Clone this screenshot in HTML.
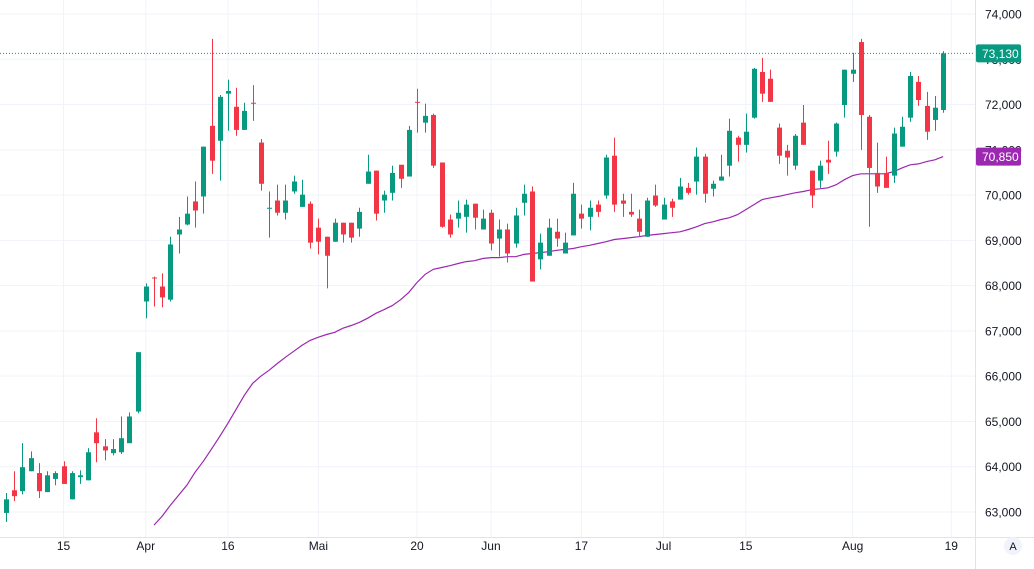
<!DOCTYPE html>
<html><head><meta charset="utf-8"><style>
html,body{margin:0;padding:0;background:#fff;overflow:hidden}
svg{display:block;font-family:"Liberation Sans",sans-serif}
</style></head><body>
<svg id="chart" width="1034" height="569" viewBox="0 0 1034 569">
<g id="grid"></g>
<g id="ma"></g>
<g id="candles"></g>
<g id="yaxis"></g>
<g id="xaxis"></g>
</svg>
<script>
const opens=[62980,63480,63460,63900,63860,63440,63730,64010,63280,63770,63700,64760,64450,64300,64320,64520,65220,67650,68180,67980,67690,69130,69350,69860,69970,71530,71200,72240,71950,71440,72040,71160,69700,69880,69610,70080,69740,69810,69280,69080,68970,69390,69390,69260,70250,70540,69880,70050,70670,70410,72060,71600,71770,70720,69460,69480,69520,69810,69240,69610,69040,69240,68930,69830,70080,68580,68660,69190,68710,69110,69590,69520,69790,69990,70870,69880,69630,69480,69080,69990,69460,69860,69900,70160,70300,70850,70140,70320,70650,71270,71110,71710,72720,72570,71490,70980,70650,71600,70540,70320,70780,70960,71990,72680,73380,71730,70490,70490,70430,71070,71710,72500,71970,71660,71880];
const highs=[63420,63900,64520,64340,64080,63900,63900,64120,63900,63920,64410,65070,64610,64610,65110,65200,66530,68050,68200,68270,69080,69520,69970,70300,71070,73450,72210,72550,72370,72040,72430,71240,70080,70230,70230,70430,70340,69860,69480,69080,69480,69390,69390,69720,70890,70540,70100,70650,70670,71530,72350,72020,71800,70720,69570,69880,69900,69810,69680,69680,69460,69370,69720,70230,70190,69150,69480,69480,69170,70270,69790,69880,69880,70890,71270,70030,70030,69680,69940,70230,69940,69920,70380,70270,71050,70910,70320,70890,71690,71310,71800,72810,73030,72770,71580,71110,71350,71990,70540,70760,71200,71600,72770,73140,73450,71770,71160,70850,71490,71730,72720,72630,72280,72190,73180];
const lows=[62780,63240,63390,63900,63310,63440,63590,63620,63280,63620,63700,64100,64140,64250,64280,64520,65180,67280,67540,67520,67650,68710,69330,69280,69590,70470,70320,71420,71310,71440,71640,70100,69060,69550,69460,70030,69740,68820,68690,67940,68970,68950,68950,69080,70250,69440,69610,69880,70160,70410,71380,71380,70600,69280,69060,69280,69170,69240,69240,68780,68640,68510,68840,69550,68090,68360,68660,68860,68710,69110,69260,69220,69520,69920,69630,69520,69520,69080,69080,69740,69460,69520,69900,70010,70010,69830,69970,70320,70410,70740,70940,71690,72060,72060,70690,70430,70560,71110,69720,70160,70470,70850,71710,72500,71000,69300,70050,70160,70270,71070,71620,71970,71220,71420,71820];
const closes=[63280,63350,63990,64190,63460,63810,63860,63620,63860,63810,64320,64520,64360,64390,64630,65110,66530,67980,68160,67740,68910,69240,69590,69660,71070,70760,72170,72300,71440,71860,72020,70250,69720,69610,69880,70300,70010,68950,68970,68660,69390,69130,69060,69630,70520,69590,70010,70490,70360,71440,72040,71750,70650,69300,69130,69610,69790,69500,69480,68930,69240,68710,69550,70030,68090,68950,69280,69040,68950,70030,69480,69720,69630,70830,69790,69810,69570,69190,69880,69770,69790,69720,70190,70050,70850,70030,70250,70410,71420,71110,71400,72790,72240,72060,70870,70830,71310,71110,69990,70650,70720,71580,72770,72770,71770,70600,70190,70160,71360,71510,72630,72100,71400,71930,73130];
const maValues=[62710,62910,63150,63370,63590,63880,64120,64390,64670,64960,65270,65580,65840,66000,66130,66280,66420,66550,66680,66790,66860,66920,66970,67060,67120,67190,67280,67390,67470,67560,67690,67850,68070,68250,68360,68400,68440,68490,68530,68550,68600,68620,68620,68640,68640,68690,68710,68730,68750,68780,68800,68820,68860,68890,68930,68970,69020,69040,69060,69080,69110,69130,69150,69170,69190,69240,69300,69370,69410,69460,69500,69570,69680,69790,69900,69940,69970,70010,70050,70080,70120,70140,70160,70230,70340,70430,70470,70470,70470,70470,70520,70600,70670,70690,70740,70780,70850];
const priceTicks=[74000,73000,72000,71000,70000,69000,68000,67000,66000,65000,64000,63000];
const dateLabels=["15","Apr","16","Mai","20","Jun","17","Jul","15","Aug","19"];
const dateIndex=[7,17,27,38,50,59,70,80,90,103,115];
const lastPrice=73130, maLast=70850;

const NS="http://www.w3.org/2000/svg";
const PW=975, AY=537;
function y(v){return 14+(74000-v)*(498/11000);}
function x(i){return 6+8.22*i;}
function mk(tag,attrs,parent){const e=document.createElementNS(NS,tag);for(const k in attrs)e.setAttribute(k,attrs[k]);parent.appendChild(e);return e;}
const grid=document.getElementById('grid'),cg=document.getElementById('candles'),mg=document.getElementById('ma'),ya=document.getElementById('yaxis'),xa=document.getElementById('xaxis');
priceTicks.forEach(p=>{
  const l=mk('line',{x1:0,x2:PW,y1:y(p),y2:y(p),stroke:'#f0f3fa','stroke-width':1},grid);
  
  
  const t=mk('text',{x:985,y:y(p)+4.5,'font-size':12,fill:'#131722'},ya);
  t.textContent=p.toLocaleString('en-US');
  
  
});
dateLabels.forEach((d,k)=>{
  const xx=x(dateIndex[k]);
  const l=mk('line',{x1:xx,x2:xx,y1:0,y2:AY,stroke:'#f0f3fa','stroke-width':1},grid);
  
  
  const t=mk('text',{x:xx,y:550,'font-size':12,fill:'#131722','text-anchor':'middle'},xa);
  t.textContent=d;
  
  
});
mk('line',{x1:PW+0.5,x2:PW+0.5,y1:0,y2:569,stroke:'#e0e3eb'},grid);
mk('line',{x1:0,x2:1034,y1:AY+0.5,y2:AY+0.5,stroke:'#e0e3eb'},grid);
// MA
const off=closes.length-maValues.length;
let d='';maValues.forEach((v,k)=>{d+=(k?'L':'M')+x(k+off).toFixed(1)+' '+y(v).toFixed(1);});
const mp=mk('path',{d:d,fill:'none',stroke:'#9c27b0','stroke-width':1.2},mg);


// last price line
const lp=mk('line',{x1:0,x2:PW,y1:y(lastPrice),y2:y(lastPrice),stroke:'#089981','stroke-width':1,'stroke-dasharray':'1 2'},cg);


// candles
closes.forEach((c,i)=>{
  const o=opens[i],up=c>=o,col=up?'#089981':'#f23645',cx=Math.round(x(i));
  const g=mk('g',{},cg);
  
  
  mk('line',{x1:cx+0.5,x2:cx+0.5,y1:y(highs[i]),y2:y(lows[i]),stroke:col,'stroke-width':1},g);
  const t=Math.min(y(o),y(c)),h=Math.max(1,Math.abs(y(o)-y(c)));
  mk('rect',{x:cx-2,y:t,width:5,height:h,fill:col},g);
});
// labels
function badge(v,col,name){
  const g=mk('g',{},ya);
  
  
  mk('rect',{x:976,y:y(v)-9,width:45,height:18,rx:2,fill:col},g);
  const t=mk('text',{x:982,y:y(v)+4.5,'font-size':12,fill:'#fff'},g);
  t.textContent=v.toLocaleString('en-US');
}
badge(lastPrice,'#089981','last-price-label');
badge(maLast,'#9c27b0','ma-value-label');
const ab=mk('g',{},xa);


mk('circle',{cx:1013,cy:546,r:9,fill:'#f0f3fa'},ab);
const at=mk('text',{x:1013,y:550,'font-size':11,fill:'#131722','text-anchor':'middle'},ab);
at.textContent='A';
</script>
</body></html>
